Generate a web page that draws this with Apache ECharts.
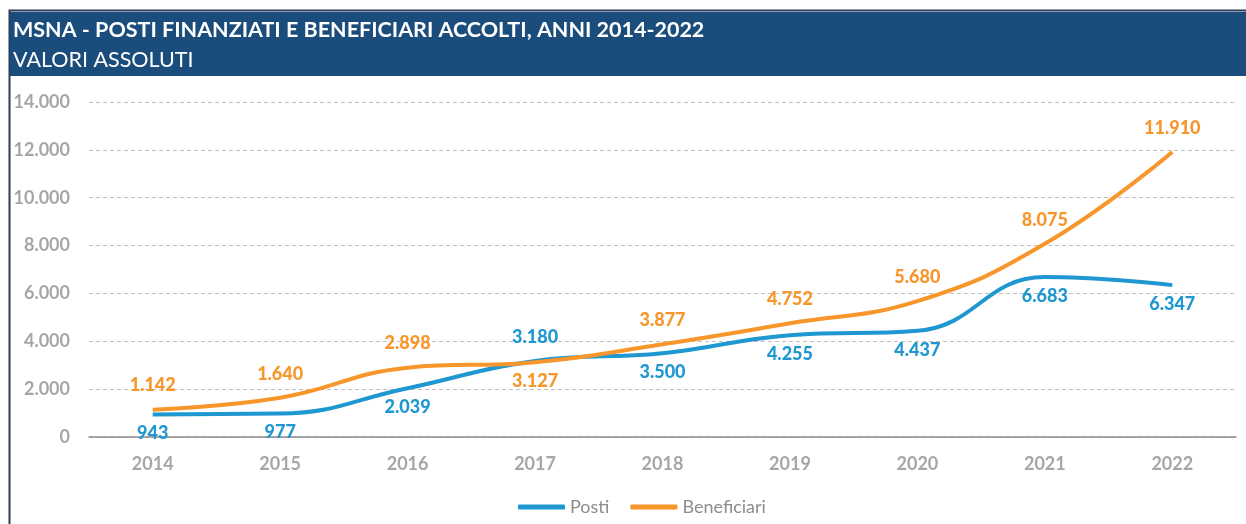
<!DOCTYPE html>
<html>
<head>
<meta charset="utf-8">
<script src="https://cdn.jsdelivr.net/npm/echarts@6/dist/echarts.min.js"></script>
<style>
  html, body { margin: 0; padding: 0; background: #fff; }
  #chart { width: 1246px; height: 524px; }
</style>
</head>
<body>
<div id="chart"></div>
<script>
// dati
var years = ['2014', '2015', '2016', '2017', '2018', '2019', '2020', '2021', '2022']
var posti = [943, 977, 2039, 3180, 3500, 4255, 4437, 6683, 6347]
var beneficiari = [1142, 1640, 2898, 3127, 3877, 4752, 5680, 8075, 11910]
// etichette sopra/sotto la linea
var postiLabelPos = ['bottom', 'bottom', 'bottom', 'top', 'bottom', 'bottom', 'bottom', 'bottom', 'bottom']
var benefLabelPos = ['top', 'top', 'top', 'bottom', 'top', 'top', 'top', 'top', 'top']

var FONT = 'Lato'
var BLUE = '#1F97D0'
var ORANGE = '#F7962B'

function fmt(v) {
  return String(v).replace(/\B(?=(\d{3})+(?!\d))/g, '.')
}

function buildData(values, positions) {
  return values.map(function (v, i) {
    return {
      value: v,
      label: { position: positions[i], distance: positions[i] === 'top' ? 15 : 10 }
    }
  })
}

var chart = echarts.init(document.getElementById('chart'))

var option = {
  animation: false,
  backgroundColor: '#fff',
  graphic: [
    {
      type: 'rect',
      shape: { x: 9.5, y: 10.5, width: 1250, height: 530 },
      style: { fill: '#fff', stroke: '#2B3B5E', lineWidth: 2 },
      z: -10
    },
    {
      type: 'rect',
      shape: { x: 10, y: 12, width: 1240, height: 64 },
      style: { fill: '#1A4D7B' },
      z: -9
    },
    {
      type: 'text',
      left: 13,
      top: 19,
      style: { text: 'MSNA - POSTI FINANZIATI E BENEFICIARI ACCOLTI, ANNI 2014-2022', fill: '#fff', font: 'bold 21.5px ' + FONT }
    },
    {
      type: 'text',
      left: 13,
      top: 49,
      style: { text: 'VALORI ASSOLUTI', fill: '#fff', font: '21.5px ' + FONT }
    }
  ],
  grid: { left: 89, right: 10, top: 102, bottom: 87 },
  legend: {
    bottom: 3,
    left: 513,
    itemWidth: 47,
    itemHeight: 5,
    itemGap: 21,
    icon: 'roundRect',
    textStyle: { color: '#8C8C8C', fontFamily: FONT, fontSize: 18 },
    data: ['Posti', 'Beneficiari']
  },
  xAxis: {
    type: 'category',
    data: years,
    boundaryGap: true,
    axisLine: { lineStyle: { color: '#8C8C8C', width: 1.5 } },
    axisTick: { show: false },
    axisLabel: { color: '#A6A6A6', fontFamily: FONT, fontWeight: 'bold', fontSize: 18, margin: 18 }
  },
  yAxis: {
    type: 'value',
    min: 0,
    max: 14000,
    interval: 2000,
    axisLine: { show: false },
    axisTick: { show: false },
    splitLine: { lineStyle: { color: '#BFBFBF', type: [4, 3] } },
    axisLabel: { color: '#A6A6A6', fontFamily: FONT, fontWeight: 'bold', fontSize: 18, margin: 19, formatter: fmt }
  },
  series: [
    {
      name: 'Posti',
      type: 'line',
      smooth: 0.45,
      symbol: 'circle',
      symbolSize: 0,
      lineStyle: { color: BLUE, width: 4 },
      itemStyle: { color: BLUE },
      label: {
        show: true,
        color: BLUE,
        fontFamily: FONT,
        fontWeight: 900,
        fontSize: 18,
        formatter: function (p) { return fmt(p.value) }
      },
      data: buildData(posti, postiLabelPos)
    },
    {
      name: 'Beneficiari',
      type: 'line',
      smooth: 0.45,
      symbol: 'circle',
      symbolSize: 0,
      lineStyle: { color: ORANGE, width: 4 },
      itemStyle: { color: ORANGE },
      label: {
        show: true,
        color: ORANGE,
        fontFamily: FONT,
        fontWeight: 900,
        fontSize: 18,
        formatter: function (p) { return fmt(p.value) }
      },
      data: buildData(beneficiari, benefLabelPos)
    }
  ]
}

chart.setOption(option)
</script>
</body>
</html>
